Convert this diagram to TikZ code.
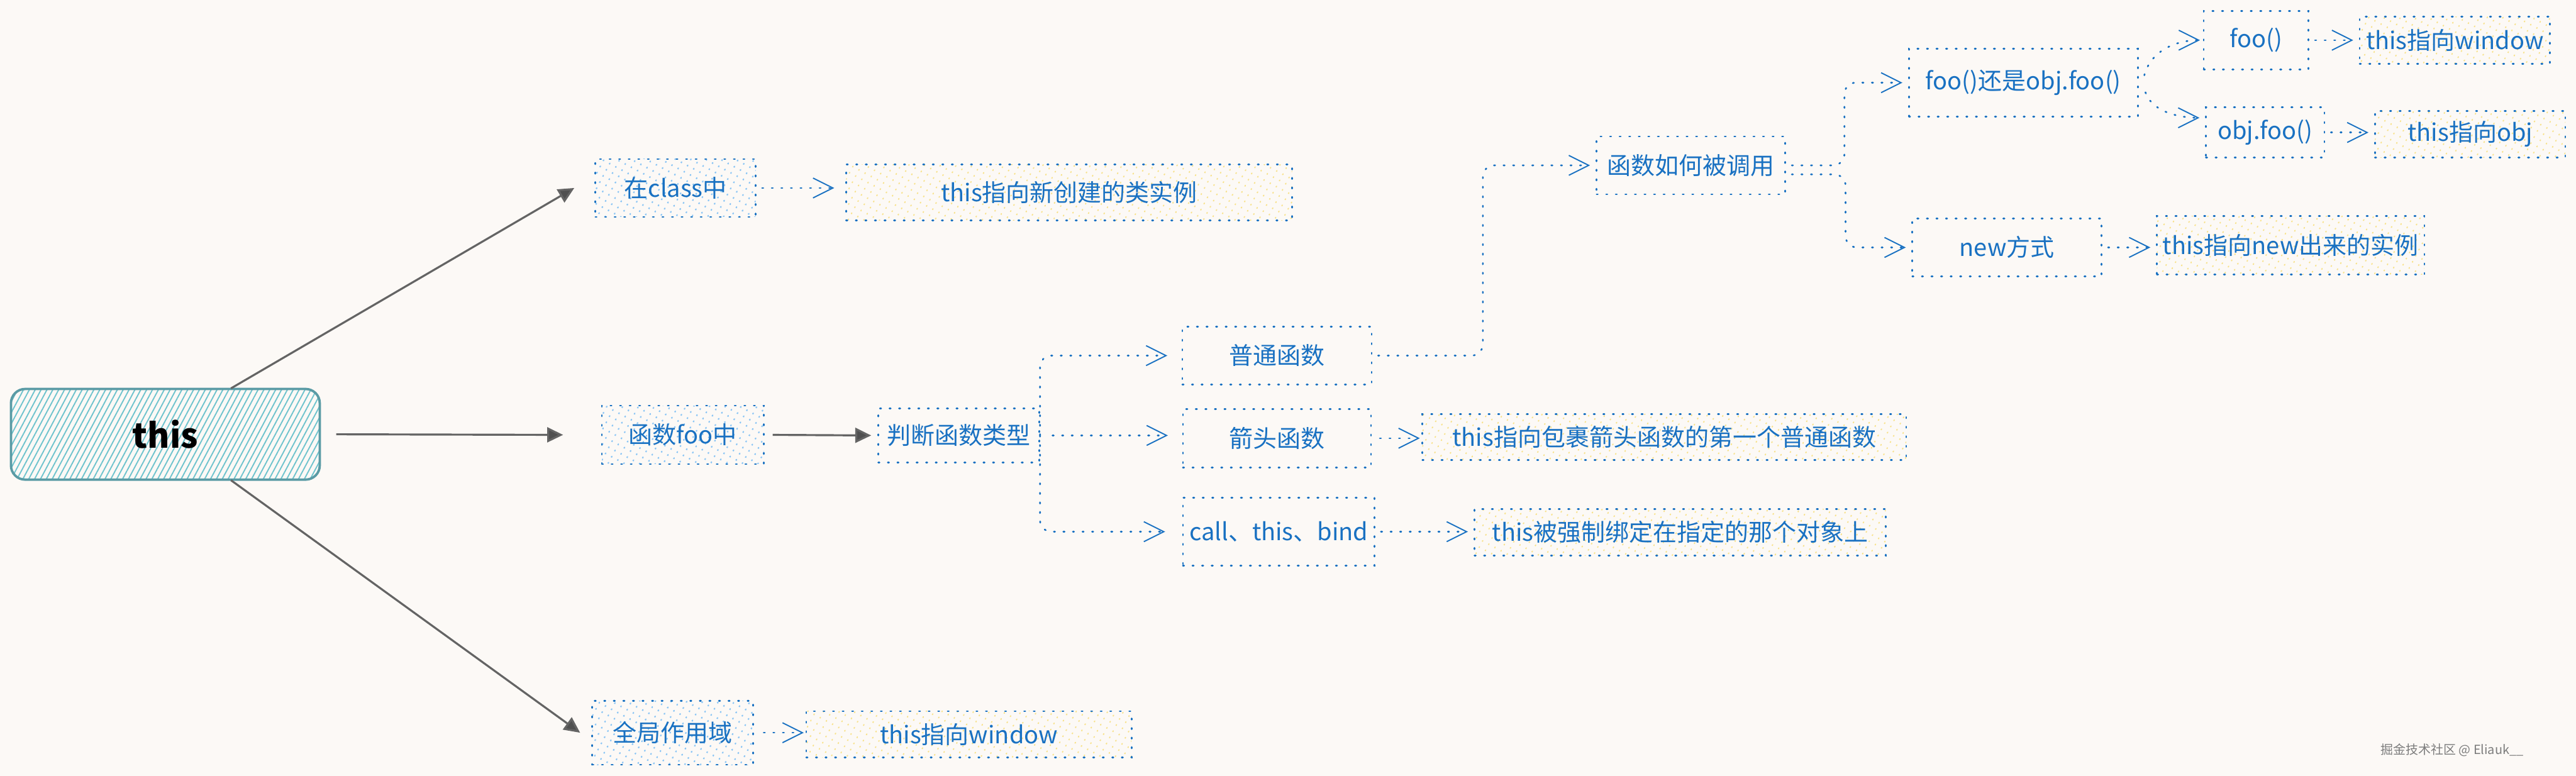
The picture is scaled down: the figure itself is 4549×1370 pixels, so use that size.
\documentclass[tikz,border=0pt]{standalone}
\usepackage{fontspec}
\usepackage{xcolor}
\usepackage{tikz}
\usetikzlibrary{arrows.meta,patterns.meta}
\newfontfamily\cjk{Noto Sans CJK SC}
\definecolor{cBg}{RGB}{252,249,246}
\definecolor{cBlue}{RGB}{25,113,194}
\definecolor{cLine}{RGB}{100,100,100}
\definecolor{cHead}{RGB}{80,80,80}
\definecolor{cTeal}{RGB}{90,155,165}
\definecolor{cTealHatch}{RGB}{110,195,205}
\definecolor{cBlueHatch}{RGB}{140,198,245}
\definecolor{cYellowHatch}{RGB}{248,226,140}
\definecolor{cMark}{RGB}{125,125,125}
\tikzset{
  dotline/.style={draw=cBlue,line width=0.85pt,dash pattern=on 0.6pt off 4.2pt,line cap=round},
  box/.style={dotline,inner sep=0pt,text=cBlue,font=\fontsize{12}{14}\cjk},
  scopebox/.style={box,pattern={Lines[angle=62,distance=3.5pt,line width=0.7pt]},pattern color=cBlueHatch},
  resultbox/.style={box,pattern={Lines[angle=62,distance=3.5pt,line width=0.6pt]},pattern color=cYellowHatch},
  dotarrow/.style={dotline,-{Straight Barb[length=10pt,width=10pt,line width=0.6pt]},shorten <=1mm,shorten >=1mm},
  greyarrow/.style={draw=cLine,line width=1pt,-{Triangle[length=8pt,width=7.5pt,fill=cHead]}}
}

\begin{document}
\begin{tikzpicture}[x=0.01cm,y=-0.01cm]
\fill[cBg] (0,0) rectangle (4549,1370);
\useasboundingbox (0,0) rectangle (4549,1370);
% root
\node[draw=cTeal,line width=1.2pt,rounded corners=2.5mm,minimum width=5.45cm,minimum height=1.6cm,pattern={Lines[angle=62,distance=2.6pt,line width=0.6pt]},pattern color=cTealHatch,font=\fontsize{17}{20}\cjk\bfseries] (this) at (292,767) {this};
% three cases
\node[scopebox,minimum width=2.83cm,minimum height=1.02cm] (inclass) at (1193,332) {在class中};
\node[resultbox,minimum width=7.87cm,minimum height=0.99cm] (classres) at (1888,340) {this指向新创建的类实例};
\node[scopebox,minimum width=2.86cm,minimum height=1.03cm] (infunc) at (1206,768) {函数foo中};
\node[scopebox,minimum width=2.84cm,minimum height=1.13cm] (global) at (1188,1294) {全局作用域};
\node[resultbox,minimum width=5.74cm,minimum height=0.82cm] (globalres) at (1711,1297) {this指向window};
% function kinds
\node[box,minimum width=2.84cm,minimum height=0.95cm] (judge) at (1693,769) {判断函数类型};
\node[box,minimum width=3.34cm,minimum height=1.02cm] (normal) at (2255,628) {普通函数};
\node[box,minimum width=3.32cm,minimum height=1.03cm] (arrowfn) at (2255,774) {箭头函数};
\node[box,minimum width=3.38cm,minimum height=1.2cm] (callbind) at (2258,939) {call、this、bind};
\node[resultbox,minimum width=8.54cm,minimum height=0.81cm] (arrowres) at (2939,772) {this指向包裹箭头函数的第一个普通函数};
\node[resultbox,minimum width=7.26cm,minimum height=0.82cm] (bindres) at (2967,940) {this被强制绑定在指定的那个对象上};
% how it is called
\node[box,minimum width=3.33cm,minimum height=1.02cm] (howcall) at (2986,292) {函数如何被调用};
\node[box,minimum width=4.04cm,minimum height=1.2cm] (which) at (3573,146) {foo()还是obj.foo()};
\node[box,minimum width=3.34cm,minimum height=1.02cm] (newway) at (3544,437) {new方式};
\node[resultbox,minimum width=4.72cm,minimum height=1.03cm] (newres) at (4045,433) {this指向new出来的实例};
\node[box,minimum width=1.85cm,minimum height=1.03cm] (plaincall) at (3984,71) {foo()};
\node[resultbox,minimum width=3.36cm,minimum height=0.83cm] (plainres) at (4335,71) {this指向window};
\node[box,minimum width=2.09cm,minimum height=0.89cm] (objcall) at (4000,234) {obj.foo()};
\node[resultbox,minimum width=3.36cm,minimum height=0.82cm] (objres) at (4362,237) {this指向obj};
\node[anchor=east,inner sep=0pt,text=cMark,font=\fontsize{6.3}{7}\cjk] (mark) at (4457,1325) {掘金技术社区 @ Eliauk\_\_};
% grey arrows
\draw[greyarrow] (this.35) -- ([xshift=-3.6mm]inclass.west);
\draw[greyarrow] ([xshift=2.8mm]this.east) -- ([xshift=-6.7mm]infunc.west);
\draw[greyarrow] (this.-35) -- ([xshift=-2mm]global.west);
\draw[greyarrow] ([xshift=1.4mm]infunc.east) -- ([xshift=-1.1mm]judge.west);
% dotted arrows
\draw[dotarrow,shorten >=2mm] (inclass.east) -- (inclass.east -| classres.west);
\draw[dotarrow,shorten <=1.7mm,shorten >=0.3mm] (global.east) -- (global.east -| globalres.west);
\draw[dotarrow,rounded corners=2mm,shorten <=0mm,shorten >=2.5mm] (judge.east) |- (normal.west);
\draw[dotarrow,shorten <=2.2mm,shorten >=2.5mm] (judge.east) -- (judge.east -| arrowfn.west);
\draw[dotarrow,rounded corners=2mm,shorten <=0mm,shorten >=3mm] (judge.east) |- (callbind.west);
\draw[dotarrow,shorten <=1.4mm,shorten >=0.3mm] (arrowfn.east) -- (arrowfn.east -| arrowres.west);
\draw[dotarrow] (callbind.east) -- (callbind.east -| bindres.west);
\draw[dotarrow,rounded corners=2mm] (normal.east) -- ++(195,0) |- (howcall.west);
\draw[dotarrow,rounded corners=2mm] (howcall.east) -- ++(103,0) |- (which.west);
\draw[dotarrow,rounded corners=2mm] ([yshift=-1.6mm]howcall.east) -- ++(105,0) |- (newway.west);
\draw[dotarrow,shorten <=0mm,shorten >=0.5mm] ([shift={(10,-13)}]which.east) .. controls +(12,-45) and +(-45,0) .. (plaincall.west);
\draw[dotarrow,shorten <=0mm] ([shift={(12,17)}]which.east) .. controls +(12,35) and +(-45,0) .. ([yshift=2.6mm]objcall.west);
\draw[dotarrow] (plaincall.east) -- (plaincall.east -| plainres.west);
\draw[dotarrow] (objcall.east) -- (objcall.east -| objres.west);
\draw[dotarrow] (newway.east) -- (newway.east -| newres.west);
\end{tikzpicture}
\end{document}
